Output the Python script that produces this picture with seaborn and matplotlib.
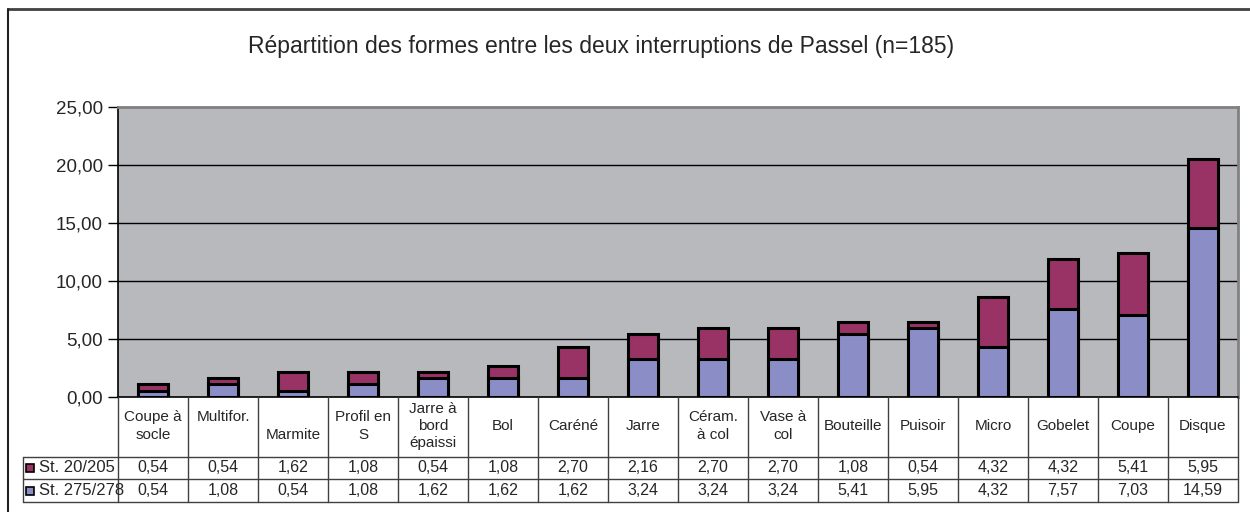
import pandas as pd
import numpy as np
import matplotlib
matplotlib.use("Agg")
import matplotlib.pyplot as plt
import seaborn as sns

# data
categories = ["Coupe à\nsocle", "Multifor.\n ", " \nMarmite", "Profil en\nS",
              "Jarre à\nbord\népaissi", "Bol", "Caréné", "Jarre", "Céram.\nà col",
              "Vase à\ncol", "Bouteille", "Puisoir", "Micro", "Gobelet", "Coupe", "Disque"]
st_20_205 = [0.54, 0.54, 1.62, 1.08, 0.54, 1.08, 2.70, 2.16, 2.70, 2.70,
             1.08, 0.54, 4.32, 4.32, 5.41, 5.95]
st_275_278 = [0.54, 1.08, 0.54, 1.08, 1.62, 1.62, 1.62, 3.24, 3.24, 3.24,
              5.41, 5.95, 4.32, 7.57, 7.03, 14.59]
series_names = ["St. 20/205", "St. 275/278"]
y_ticks = [0, 5, 10, 15, 20, 25]
title = "Répartition des formes entre les deux interruptions de Passel (n=185)"

purple = "#993366"
blue = "#8B8EC6"
plot_bg = "#B8B9BC"

sns.set_style("white")
plt.rcParams["font.family"] = ["Liberation Sans", "DejaVu Sans"]

df = pd.DataFrame({"cat": categories, "top": st_20_205, "bottom": st_275_278})
df["total"] = df["top"] + df["bottom"]

W, H = 1250, 512
fig = plt.figure(figsize=(W / 100, H / 100), dpi=100)

# plot area in pixel layout
left, right, top, bottom = 118, 1238, 107, 397
ax = fig.add_axes([left / W, 1 - bottom / H, (right - left) / W, (bottom - top) / H])
ax.set_facecolor(plot_bg)

sns.barplot(data=df, x="cat", y="total", color=purple, width=0.42,
            edgecolor="black", linewidth=2.2, saturation=1, ax=ax, zorder=3)
sns.barplot(data=df, x="cat", y="bottom", color=blue, width=0.42,
            edgecolor="black", linewidth=2.2, saturation=1, ax=ax, zorder=4)

ax.set_xlim(-0.5, len(categories) - 0.5)
ax.set_ylim(0, 25)
ax.set_yticks(y_ticks)
ax.set_yticklabels([f"{v:.2f}".replace(".", ",") for v in y_ticks], fontsize=13.5)
ax.set_xticks([])
ax.set_xlabel("")
ax.set_ylabel("")
ax.tick_params(axis="y", direction="out", length=7, width=1, color="black", pad=4, left=True)
for v in y_ticks[1:-1]:
    ax.axhline(v, color="black", linewidth=1, zorder=1)
for side in ["top", "right"]:
    ax.spines[side].set_color("#808080")
    ax.spines[side].set_linewidth(2)
for side in ["left", "bottom"]:
    ax.spines[side].set_color("black")
    ax.spines[side].set_linewidth(1.2)

# overlay in pixel coordinates for frame, title and data table
ov = fig.add_axes([0, 0, 1, 1], zorder=-1)
ov.set_xlim(0, W)
ov.set_ylim(H, 0)
ov.axis("off")

ov.plot([8, W], [9, 9], color="#404040", linewidth=2)
ov.plot([8, 8], [9, H], color="#202020", linewidth=1.5)
ov.text(601, 46, title, ha="center", va="center", fontsize=16.5)

tab = fig.add_axes([0, 0, 1, 1], zorder=5)
tab.set_xlim(0, W)
tab.set_ylim(H, 0)
tab.axis("off")
tab.patch.set_alpha(0)

n = len(categories)
cw = (right - left) / n
row1, row2, row3 = 457, 479, 502
lc = "#404040"
for i in range(n + 1):
    x = left + i * cw
    tab.plot([x, x], [bottom, row3], color=lc, linewidth=1)
tab.plot([23, right], [row1, row1], color=lc, linewidth=1)
tab.plot([23, right], [row2, row2], color=lc, linewidth=1)
tab.plot([23, right], [row3, row3], color=lc, linewidth=1)
tab.plot([23, 23], [row1, row3], color=lc, linewidth=1)

for i, lab in enumerate(categories):
    cx = left + (i + 0.5) * cw
    tab.text(cx, (bottom + row1) / 2 - 1, lab, ha="center", va="center",
             fontsize=11, linespacing=1.3)
    tab.text(cx, (row1 + row2) / 2, f"{st_20_205[i]:.2f}".replace(".", ","),
             ha="center", va="center", fontsize=11.5)
    tab.text(cx, (row2 + row3) / 2, f"{st_275_278[i]:.2f}".replace(".", ","),
             ha="center", va="center", fontsize=11.5)

for name, col, (y0, y1) in zip(series_names, [purple, blue], [(row1, row2), (row2, row3)]):
    yc = (y0 + y1) / 2
    tab.add_patch(plt.Rectangle((26, yc - 4), 8, 8, facecolor=col,
                                edgecolor="black", linewidth=1.2))
    tab.text(39, yc, name, ha="left", va="center", fontsize=12)

fig.savefig("out.png", dpi=100)
